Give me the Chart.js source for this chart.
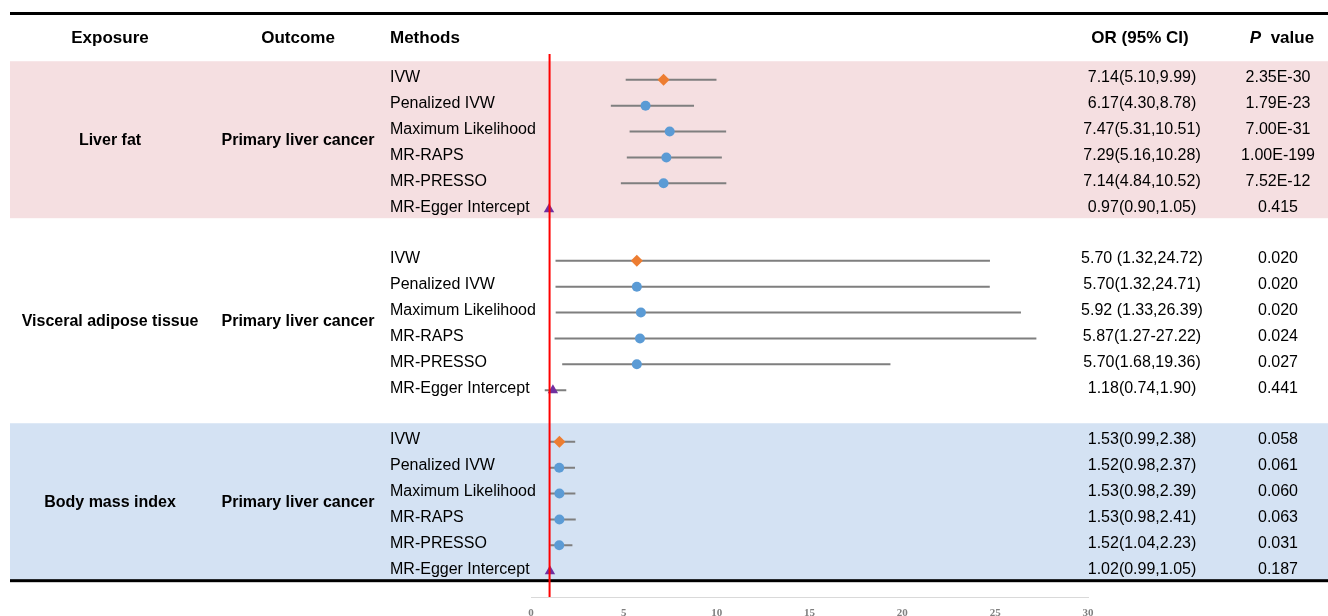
<!DOCTYPE html>
<html><head><meta charset="utf-8">
<script src="https://cdn.jsdelivr.net/npm/chart.js@4/dist/chart.umd.min.js"></script>
<style>html,body{margin:0;padding:0;background:#fff;overflow:hidden}</style>
</head><body>
<canvas id="c" width="1328" height="616"></canvas>
<script>
// ---- data ----
const exposures = ['Liver fat', 'Visceral adipose tissue', 'Body mass index'];
const outcomes = ['Primary liver cancer', 'Primary liver cancer', 'Primary liver cancer'];
const methods = ['IVW', 'Penalized IVW', 'Maximum Likelihood', 'MR-RAPS', 'MR-PRESSO', 'MR-Egger Intercept'];
const groupStartRows = [0, 7, 14];

const orLiver = [7.14, 6.17, 7.47, 7.29, 7.14, 0.97];
const loLiver = [5.10, 4.30, 5.31, 5.16, 4.84, 0.90];
const hiLiver = [9.99, 8.78, 10.51, 10.28, 10.52, 1.05];
const orTextLiver = ['7.14(5.10,9.99)', '6.17(4.30,8.78)', '7.47(5.31,10.51)', '7.29(5.16,10.28)', '7.14(4.84,10.52)', '0.97(0.90,1.05)'];
const pLiver = ['2.35E-30', '1.79E-23', '7.00E-31', '1.00E-199', '7.52E-12', '0.415'];

const orVat = [5.70, 5.70, 5.92, 5.87, 5.70, 1.18];
const loVat = [1.32, 1.32, 1.33, 1.27, 1.68, 0.74];
const hiVat = [24.72, 24.71, 26.39, 27.22, 19.36, 1.90];
const orTextVat = ['5.70 (1.32,24.72)', '5.70(1.32,24.71)', '5.92 (1.33,26.39)', '5.87(1.27-27.22)', '5.70(1.68,19.36)', '1.18(0.74,1.90)'];
const pVat = ['0.020', '0.020', '0.020', '0.024', '0.027', '0.441'];

const orBmi = [1.53, 1.52, 1.53, 1.53, 1.52, 1.02];
const loBmi = [0.99, 0.98, 0.98, 0.98, 1.04, 0.99];
const hiBmi = [2.38, 2.37, 2.39, 2.41, 2.23, 1.05];
const orTextBmi = ['1.53(0.99,2.38)', '1.52(0.98,2.37)', '1.53(0.98,2.39)', '1.53(0.98,2.41)', '1.52(1.04,2.23)', '1.02(0.99,1.05)'];
const pBmi = ['0.058', '0.061', '0.060', '0.063', '0.031', '0.187'];

const referenceOR = 1;
const xTicks = [0, 5, 10, 15, 20, 25, 30];
const headers = ['Exposure', 'Outcome', 'Methods', 'OR (95% CI)', 'P value'];

// ---- build ----
const groups = [
  {or: orLiver, lo: loLiver, hi: hiLiver, orText: orTextLiver, p: pLiver, band: '#F5DFE1'},
  {or: orVat, lo: loVat, hi: hiVat, orText: orTextVat, p: pVat, band: null},
  {or: orBmi, lo: loBmi, hi: hiBmi, orText: orTextBmi, p: pBmi, band: '#D4E2F3'}
];
const yMin = -1, yMax = 20;
const ciData = [], ivwData = [], otherData = [], eggerData = [];
groups.forEach((g, gi) => {
  g.or.forEach((v, i) => {
    const r = groupStartRows[gi] + i;
    ciData.push({x: g.lo[i], y: r}, {x: g.hi[i], y: r}, {x: null, y: null});
    if (i === 0) ivwData.push({x: v, y: r});
    else if (i === methods.length - 1) eggerData.push({x: v, y: r});
    else otherData.push({x: v, y: r});
  });
});

const FONT = '"Liberation Sans", Arial, Helvetica, sans-serif';

const tablePlugin = {
  id: 'table',
  beforeDraw(chart) {
    const ctx = chart.ctx, ys = chart.scales.y;
    ctx.save();
    ctx.fillStyle = '#fff';
    ctx.fillRect(0, 0, chart.width, chart.height);
    groups.forEach((g, gi) => {
      if (!g.band) return;
      const s = groupStartRows[gi];
      const top = ys.getPixelForValue(s - 0.72);
      const bot = ys.getPixelForValue(s + methods.length - 1 + 0.35);
      ctx.fillStyle = g.band;
      ctx.fillRect(10, top, chart.width - 10, bot - top);
    });
    ctx.restore();
  },
  beforeDatasetsDraw(chart) {
    const ctx = chart.ctx, ys = chart.scales.y;
    ctx.save();
    // rules
    ctx.fillStyle = '#000';
    ctx.fillRect(10, 12, chart.width - 10, 3);
    const lastRow = groupStartRows[2] + methods.length - 1;
    const by = ys.getPixelForValue(lastRow + 0.35);
    ctx.fillRect(10, by - 1, chart.width - 10, 3);

    // header
    ctx.fillStyle = '#000';
    ctx.textBaseline = 'middle';
    ctx.font = 'bold 17px ' + FONT;
    const hy = 38;
    ctx.textAlign = 'center';
    ctx.fillText(headers[0], 110, hy);
    ctx.fillText(headers[1], 298, hy);
    ctx.textAlign = 'left';
    ctx.fillText(headers[2], 390, hy);
    ctx.textAlign = 'center';
    ctx.fillText(headers[3], 1140, hy);
    // P value with italic P
    const pParts = headers[4].split(' ');
    ctx.font = 'italic bold 17px ' + FONT;
    const w1 = ctx.measureText(pParts[0]).width;
    ctx.font = 'bold 17px ' + FONT;
    const rest = '  ' + pParts.slice(1).join(' ');
    const w2 = ctx.measureText(rest).width;
    const px0 = 1282 - (w1 + w2) / 2;
    ctx.textAlign = 'left';
    ctx.font = 'italic bold 17px ' + FONT;
    ctx.fillText(pParts[0], px0, hy);
    ctx.font = 'bold 17px ' + FONT;
    ctx.fillText(rest, px0 + w1, hy);

    // group rows
    groups.forEach((g, gi) => {
      const s = groupStartRows[gi];
      const my = ys.getPixelForValue(s + (methods.length - 1) / 2) - 4;
      ctx.font = 'bold 16px ' + FONT;
      ctx.textAlign = 'center';
      ctx.fillText(exposures[gi], 110, my);
      ctx.fillText(outcomes[gi], 298, my);
      ctx.font = '16px ' + FONT;
      methods.forEach((m, i) => {
        const y = ys.getPixelForValue(s + i) - 2;
        ctx.textAlign = 'left';
        ctx.fillText(m, 390, y);
        ctx.textAlign = 'center';
        ctx.fillText(g.orText[i], 1142, y);
        ctx.fillText(g.p[i], 1278, y);
      });
    });
    ctx.restore();
  }
};

new Chart(document.getElementById('c'), {
  type: 'scatter',
  data: {
    datasets: [
      {label: 'ref', data: [{x: referenceOR, y: yMin}, {x: referenceOR, y: yMax}], showLine: true,
        borderColor: '#FF0000', borderWidth: 2, pointRadius: 0, order: 0, clip: false},
      {label: 'IVW', data: ivwData, pointStyle: 'rectRot', pointRadius: 6, backgroundColor: '#ED7D31',
        borderColor: '#ED7D31', borderWidth: 0, order: 1},
      {label: 'other', data: otherData, pointStyle: 'circle', pointRadius: 5, backgroundColor: '#5B9BD5',
        borderColor: '#5B9BD5', borderWidth: 0, order: 1},
      {label: 'Egger', data: eggerData, pointStyle: 'triangle', pointRadius: 6, backgroundColor: '#7030A0',
        borderColor: '#7030A0', borderWidth: 0, order: 1},
      {label: 'CI', data: ciData, showLine: true, spanGaps: false, borderColor: '#7F7F7F', borderWidth: 2,
        pointRadius: 0, order: 2}
    ]
  },
  options: {
    responsive: false,
    animation: false,
    events: [],
    layout: {padding: {left: 531, right: 240, top: 54, bottom: 0}},
    plugins: {legend: {display: false}, tooltip: {enabled: false}},
    scales: {
      x: {
        type: 'linear', min: xTicks[0], max: xTicks[xTicks.length - 1],
        afterBuildTicks(scale) { scale.ticks = xTicks.map(v => ({value: v})); },
        afterFit(scale) { scale.height = 19; },
        grid: {display: false, drawTicks: false},
        border: {display: true, color: '#D9D9D9', width: 1},
        ticks: {padding: 10, color: '#808080', font: {family: '"Liberation Serif", "Times New Roman", serif', size: 11, weight: 'bold'}, maxRotation: 0, autoSkip: false}
      },
      y: {type: 'linear', min: yMin, max: yMax, reverse: true, display: false}
    }
  },
  plugins: [tablePlugin]
});
</script>
</body></html>
